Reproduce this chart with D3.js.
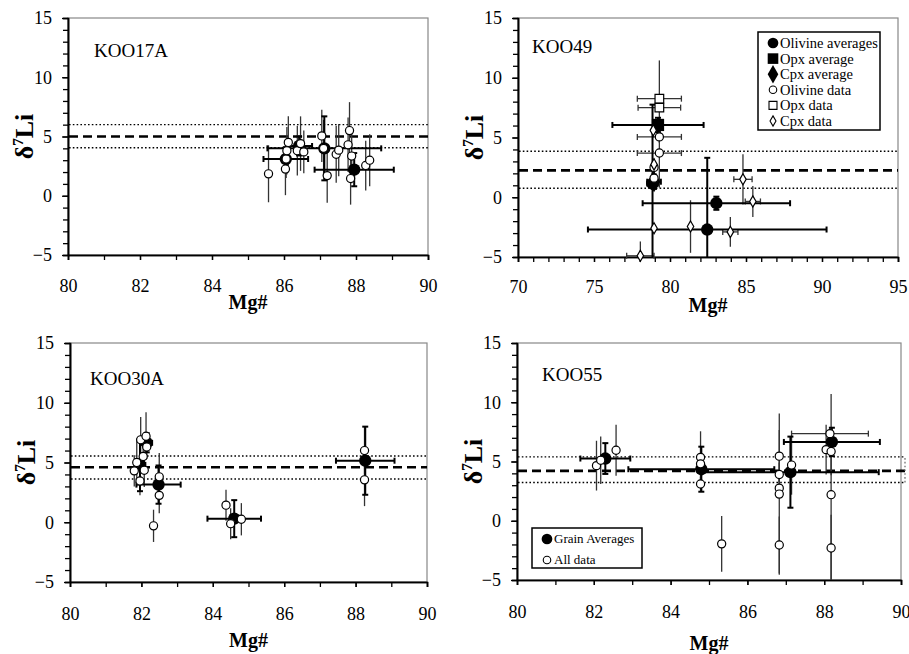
<!DOCTYPE html>
<html>
<head>
<meta charset="utf-8">
<script src="https://cdn.jsdelivr.net/npm/d3@7"></script>
<style>
body { margin: 0; background: #fff; }
svg, svg text { font-family: "Liberation Serif", "Times New Roman", "DejaVu Serif", serif; }
</style>
</head>
<body>
<div id="fig"></div>
<script>
// ---- data ----
// band = [lower dotted, mean dashed, upper dotted]

// KOO17A
const k17Band = [4.05, 5.0, 6.0]
const k17Avg = [
    { x: 86.05, y: 3.1, xe: 0.62, ye: 1.0, m: 'ol' },
    { x: 86.42, y: 4.2, xe: 0.36, ye: 0.8, m: 'ol' },
    { x: 87.12, y: 4.0, xe: 1.58, ye: 2.7, m: 'ol' },
    { x: 87.95, y: 2.2, xe: 1.1, ye: 1.4, m: 'ol' }
]
const k17Data = [
    { x: 85.57, y: 1.85, ye: 2.4, m: 'ol' },
    { x: 86.04, y: 2.25, ye: 2.2, m: 'ol' },
    { x: 86.06, y: 3.1, ye: 1.6, m: 'ol' },
    { x: 86.08, y: 3.8, ye: 2.0, m: 'ol' },
    { x: 86.12, y: 4.5, ye: 2.2, m: 'ol' },
    { x: 86.37, y: 3.8, ye: 2.1, m: 'ol' },
    { x: 86.46, y: 4.4, ye: 2.3, m: 'ol' },
    { x: 86.55, y: 3.7, ye: 1.8, m: 'ol' },
    { x: 87.05, y: 5.05, ye: 2.2, m: 'ol' },
    { x: 87.1, y: 4.0, ye: 2.4, m: 'ol' },
    { x: 87.2, y: 1.7, ye: 2.3, m: 'ol' },
    { x: 87.45, y: 3.5, ye: 2.4, m: 'ol' },
    { x: 87.52, y: 3.85, ye: 2.2, m: 'ol' },
    { x: 87.78, y: 4.3, ye: 2.3, m: 'ol' },
    { x: 87.82, y: 5.5, ye: 2.4, m: 'ol' },
    { x: 87.88, y: 3.35, ye: 2.3, m: 'ol' },
    { x: 87.85, y: 1.45, ye: 2.2, m: 'ol' },
    { x: 88.27, y: 2.55, ye: 2.1, m: 'ol' },
    { x: 88.38, y: 3.0, ye: 2.2, m: 'ol' }
]

// KOO49
const k49Band = [0.75, 2.25, 3.85]
const k49Avg = [
    { x: 79.21, y: 6.05, xe: 3.0, ye: 0.6, m: 'opx' },
    { x: 78.85, y: 1.15, xe: 0.35, ye: 6.6, m: 'ol' },
    { x: 78.95, y: 1.3, xe: 0.45, ye: 0.6, m: 'cpx' },
    { x: 83.05, y: -0.5, xe: 4.85, ye: 0.55, m: 'ol' },
    { x: 82.45, y: -2.7, xe: 7.85, ye: 6.0, m: 'ol' }
]
const k49Data = [
    { x: 79.3, y: 8.25, xe: 1.45, ye: 3.2, m: 'opx' },
    { x: 79.3, y: 7.5, xe: 1.4, ye: 0.4, m: 'opx' },
    { x: 79.3, y: 5.05, xe: 1.45, ye: 0.5, m: 'ol' },
    { x: 79.3, y: 3.7, xe: 1.45, ye: 2.9, m: 'ol' },
    { x: 78.95, y: 2.5, ye: 0.6, m: 'ol' },
    { x: 78.95, y: 1.6, ye: 0.5, m: 'ol' },
    { x: 78.9, y: 5.6, ye: 0.6, m: 'cpx' },
    { x: 78.95, y: 2.75, ye: 0.5, m: 'cpx' },
    { x: 78.95, y: -2.6, ye: 0.4, m: 'cpx' },
    { x: 78.05, y: -4.9, xe: 0.9, ye: 1.2, m: 'cpx' },
    { x: 81.35, y: -2.45, ye: 2.2, m: 'cpx' },
    { x: 83.97, y: -2.9, xe: 0.5, ye: 1.25, m: 'cpx' },
    { x: 84.8, y: 1.5, xe: 0.6, ye: 2.1, m: 'cpx' },
    { x: 85.45, y: -0.35, xe: 0.5, ye: 1.3, m: 'cpx' }
]

// KOO30A
const k30Band = [3.62, 4.6, 5.55]
const k30Avg = [
    { x: 81.96, y: 4.8, xe: 0.15, ye: 2.2, m: 'ol' },
    { x: 82.15, y: 6.65, xe: 0.15, ye: 0.8, m: 'ol' },
    { x: 82.48, y: 3.15, xe: 0.62, ye: 1.6, m: 'ol' },
    { x: 84.6, y: 0.3, xe: 0.75, ye: 1.55, m: 'ol' },
    { x: 88.27, y: 5.15, xe: 0.82, ye: 2.85, m: 'ol' }
]
const k30Data = [
    { x: 81.8, y: 4.3, ye: 1.3, m: 'ol' },
    { x: 81.87, y: 5.0, ye: 2.0, m: 'ol' },
    { x: 81.96, y: 3.45, ye: 1.2, m: 'ol' },
    { x: 81.98, y: 6.9, ye: 1.9, m: 'ol' },
    { x: 82.05, y: 5.5, ye: 1.0, m: 'ol' },
    { x: 82.08, y: 4.35, ye: 1.4, m: 'ol' },
    { x: 82.13, y: 7.2, ye: 2.0, m: 'ol' },
    { x: 82.15, y: 6.3, ye: 1.0, m: 'ol' },
    { x: 82.34, y: -0.3, ye: 1.35, m: 'ol' },
    { x: 82.5, y: 3.8, ye: 2.0, m: 'ol' },
    { x: 82.5, y: 2.25, ye: 1.5, m: 'ol' },
    { x: 84.37, y: 1.43, ye: 1.3, m: 'ol' },
    { x: 84.5, y: -0.12, ye: 1.3, m: 'ol' },
    { x: 84.8, y: 0.25, ye: 1.35, m: 'ol' },
    { x: 88.25, y: 6.0, ye: 2.0, m: 'ol' },
    { x: 88.25, y: 3.55, ye: 2.2, m: 'ol' }
]

// KOO55
const k55Band = [3.23, 4.21, 5.39]
const k55Avg = [
    { x: 82.3, y: 5.25, xe: 0.65, ye: 1.3, m: 'ol' },
    { x: 84.8, y: 4.35, xe: 1.9, ye: 1.9, m: 'ol' },
    { x: 87.12, y: 4.1, xe: 2.3, ye: 3.0, m: 'ol' },
    { x: 88.2, y: 6.65, xe: 1.25, ye: 1.2, m: 'ol' }
]
const k55Data = [
    { x: 82.07, y: 4.65, ye: 2.1, m: 'ol' },
    { x: 82.18, y: 5.1, ye: 2.0, m: 'ol' },
    { x: 82.58, y: 5.95, ye: 2.15, m: 'ol' },
    { x: 84.78, y: 5.35, ye: 2.2, m: 'ol' },
    { x: 84.78, y: 4.8, ye: 1.5, m: 'ol' },
    { x: 84.78, y: 3.1, ye: 0.6, m: 'ol' },
    { x: 85.33, y: -1.95, ye: 2.35, m: 'ol' },
    { x: 86.83, y: 5.45, ye: 2.2, m: 'ol' },
    { x: 86.83, y: 3.9, ye: 1.0, m: 'ol' },
    { x: 86.83, y: 2.75, ye: 0.8, m: 'ol' },
    { x: 86.83, y: 2.25, ye: 6.8, m: 'ol' },
    { x: 86.83, y: -2.05, ye: 2.4, m: 'ol' },
    { x: 87.15, y: 4.7, ye: 2.5, m: 'ol' },
    { x: 88.05, y: 6.0, ye: 2.1, m: 'ol' },
    { x: 88.15, y: 7.35, xe: 1.0, ye: 0.5, m: 'ol' },
    { x: 88.18, y: 5.85, ye: 2.0, m: 'ol' },
    { x: 88.18, y: 2.2, ye: 8.5, m: 'ol' },
    { x: 88.18, y: -2.3, ye: 2.8, m: 'ol' }
]

const k49Legend = [
    { label: 'Olivine averages', m: 'ol', avg: true },
    { label: 'Opx average', m: 'opx', avg: true },
    { label: 'Cpx average', m: 'cpx', avg: true },
    { label: 'Olivine data', m: 'ol', avg: false },
    { label: 'Opx data', m: 'opx', avg: false },
    { label: 'Cpx data', m: 'cpx', avg: false }
]
const k55Legend = [
    { label: 'Grain Averages', m: 'ol', avg: true },
    { label: 'All data', m: 'ol', avg: false }
]

// ---- drawing ----
const svg = d3.select('#fig').append('svg')
    .attr('width', 909)
    .attr('height', 654)

const sym = { ol: d3.symbolCircle, opx: d3.symbolSquare, cpx: d3.symbolDiamond }
const avgSize = { ol: 120, opx: 150, cpx: 130 }
const ptSize = { ol: 52, opx: 75, cpx: 36 }

const panels = [
    { name: 'KOO17A', box: [68, 18, 428, 255], xDom: [80, 90], xMajor: 2, nameXY: [94, 57],
      tickBase: 292, titleBase: 309, band: k17Band, avg: k17Avg, pts: k17Data },
    { name: 'KOO49', box: [518, 18, 898, 257], xDom: [70, 95], xMajor: 5, nameXY: [532, 53],
      tickBase: 293, titleBase: 312, band: k49Band, avg: k49Avg, pts: k49Data,
      legend: k49Legend, legBox: [758, 32, 122, 98], legFont: 14.5, legStep: 15.6 },
    { name: 'KOO30A', box: [70, 343, 427, 582], xDom: [80, 90], xMajor: 2, nameXY: [90, 385],
      tickBase: 620, titleBase: 647, band: k30Band, avg: k30Avg, pts: k30Data },
    { name: 'KOO55', box: [517, 343, 901, 580], xDom: [80, 90], xMajor: 2, nameXY: [542, 381],
      tickBase: 618, titleBase: 650, band: k55Band, avg: k55Avg, pts: k55Data, bandExt: 905,
      legend: k55Legend, legBox: [532, 528, 110, 40], legFont: 13, legStep: 21 }
]

function drawPanel(p) {
    const [x0, y0, x1, y1] = p.box
    const x = d3.scaleLinear().domain(p.xDom).range([x0, x1])
    const y = d3.scaleLinear().domain([-5, 15]).range([y1, y0]).clamp(true)
    const g = svg.append('g')

    // frame (top/right light)
    g.append('rect')
        .attr('x', x0).attr('y', y0)
        .attr('width', x1 - x0).attr('height', y1 - y0)
        .attr('fill', 'none').attr('stroke', '#888').attr('stroke-width', 1.2)

    // minor ticks, outward
    g.append('g')
        .attr('transform', `translate(${x0},0)`)
        .call(d3.axisLeft(y).tickValues(d3.range(-5, 16, 1)).tickSize(5).tickFormat(''))
    g.append('g')
        .attr('transform', `translate(0,${y1})`)
        .call(d3.axisBottom(x).tickValues(d3.range(p.xDom[0], p.xDom[1] + 1, 1)).tickSize(5).tickFormat(''))

    // major ticks + labels
    const ya = g.append('g')
        .attr('transform', `translate(${x0},0)`)
        .call(d3.axisLeft(y).tickValues([-5, 0, 5, 10, 15]).tickSizeInner(6).tickSizeOuter(0).tickPadding(10))
    const xa = g.append('g')
        .attr('transform', `translate(0,${y1})`)
        .call(d3.axisBottom(x).tickValues(d3.range(p.xDom[0], p.xDom[1] + 0.1, p.xMajor)).tickSizeInner(5).tickSizeOuter(0).tickPadding(0))
    g.selectAll('g').attr('font-family', null)
    g.selectAll('.domain').attr('stroke', '#000').attr('stroke-width', 1.6)
    g.selectAll('.tick line').attr('stroke', '#000').attr('stroke-width', 1.3)
    ya.selectAll('text').attr('font-size', 18).attr('fill', '#000')
    xa.selectAll('text').attr('font-size', 18).attr('fill', '#000')
        .attr('dy', null).attr('y', p.tickBase - y1)

    // band lines
    const bx1 = p.bandExt || x1
    g.selectAll('.band')
        .data(p.band)
        .enter()
        .append('line')
        .attr('x1', x0 + 1).attr('x2', bx1)
        .attr('y1', d => y(d)).attr('y2', d => y(d))
        .attr('stroke', '#000')
        .attr('stroke-width', (d, i) => i === 1 ? 2.6 : 1.4)
        .attr('stroke-dasharray', (d, i) => i === 1 ? '9,5' : '1.6,2.2')
    if (p.bandExt) {
        g.append('line')
            .attr('x1', bx1).attr('x2', bx1)
            .attr('y1', y(p.band[0])).attr('y2', y(p.band[2]))
            .attr('stroke', '#666').attr('stroke-width', 1.2).attr('stroke-dasharray', '1.6,2.2')
    }

    // error bars
    function bars(data, w, col, cap) {
        const eb = g.append('g')
        data.forEach(d => {
            if (d.ye) {
                eb.append('line')
                    .attr('x1', x(d.x)).attr('x2', x(d.x))
                    .attr('y1', y(d.y - d.ye)).attr('y2', y(d.y + d.ye))
                    .attr('stroke', col).attr('stroke-width', w)
                if (cap) {
                    [d.y - d.ye, d.y + d.ye].forEach(v => {
                        if (v > -5 && v < 15) eb.append('line')
                            .attr('x1', x(d.x) - cap).attr('x2', x(d.x) + cap)
                            .attr('y1', y(v)).attr('y2', y(v))
                            .attr('stroke', col).attr('stroke-width', w)
                    })
                }
            }
            if (d.xe) {
                eb.append('line')
                    .attr('x1', x(d.x - d.xe)).attr('x2', x(d.x + d.xe))
                    .attr('y1', y(d.y)).attr('y2', y(d.y))
                    .attr('stroke', col).attr('stroke-width', w)
                const c = cap || 3
                ;[d.x - d.xe, d.x + d.xe].forEach(v => {
                    eb.append('line')
                        .attr('x1', x(v)).attr('x2', x(v))
                        .attr('y1', y(d.y) - c).attr('y2', y(d.y) + c)
                        .attr('stroke', col).attr('stroke-width', w)
                })
            }
        })
    }
    bars(p.pts, 1.3, '#333', 0)
    bars(p.avg, 2, '#000', 3)

    // markers
    g.selectAll('.avg')
        .data(p.avg)
        .enter()
        .append('path')
        .attr('d', d => d3.symbol().type(sym[d.m]).size(avgSize[d.m])())
        .attr('transform', d => `translate(${x(d.x)},${y(d.y)})`)
        .attr('fill', '#000')
    g.selectAll('.pt')
        .data(p.pts)
        .enter()
        .append('path')
        .attr('d', d => d3.symbol().type(sym[d.m]).size(ptSize[d.m])())
        .attr('transform', d => `translate(${x(d.x)},${y(d.y)})`)
        .attr('fill', '#fff').attr('stroke', '#000').attr('stroke-width', 1.2)

    // sample name
    g.append('text')
        .attr('x', p.nameXY[0]).attr('y', p.nameXY[1])
        .attr('font-size', 19)
        .text(p.name)

    // axis titles
    const yt = g.append('text')
        .attr('transform', `translate(${x0 - 35},${(y0 + y1) / 2}) rotate(-90)`)
        .attr('text-anchor', 'middle')
        .attr('font-size', 26).attr('font-weight', 'bold')
    yt.append('tspan').text('δ')
    yt.append('tspan').attr('font-size', 15).attr('dy', -10).text('7')
    yt.append('tspan').attr('dy', 10).text('Li')
    g.append('text')
        .attr('x', (x0 + x1) / 2).attr('y', p.titleBase)
        .attr('text-anchor', 'middle')
        .attr('font-size', 20).attr('font-weight', 'bold')
        .text('Mg#')

    // legend
    if (p.legend) {
        const [lx, ly, lw, lh] = p.legBox
        g.append('rect')
            .attr('x', lx).attr('y', ly).attr('width', lw).attr('height', lh)
            .attr('fill', '#fff').attr('stroke', '#000').attr('stroke-width', 1.5)
        const items = g.selectAll('.leg')
            .data(p.legend)
            .enter()
            .append('g')
            .attr('transform', (d, i) => `translate(${lx + 15},${ly + 11 + i * p.legStep})`)
        items.append('path')
            .attr('d', d => d3.symbol().type(sym[d.m]).size(d.avg ? avgSize[d.m] * 0.75 : ptSize[d.m] * 0.85)())
            .attr('fill', d => d.avg ? '#000' : '#fff')
            .attr('stroke', '#000').attr('stroke-width', d => d.avg ? 0 : 1.1)
        items.append('text')
            .attr('x', 7).attr('dy', '0.34em')
            .attr('font-size', p.legFont)
            .text(d => d.label)
    }
}

panels.forEach(drawPanel)
</script>
</body>
</html>
